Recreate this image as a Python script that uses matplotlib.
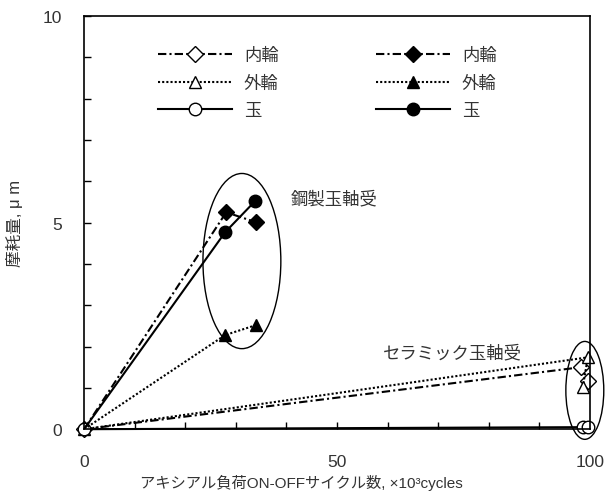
import matplotlib
matplotlib.use("Agg")
import matplotlib.pyplot as plt
from matplotlib.patches import Ellipse
from matplotlib.ticker import MultipleLocator

plt.rcParams['font.family'] = ['Liberation Sans', 'Noto Sans CJK JP']

# wear data: cycles (x10^3) and wear (um), series start at the origin
steel_inner_x = [0, 28.1, 34.0]
steel_inner_y = [0, 5.25, 5.01]
steel_outer_x = [0, 27.9, 34.0]
steel_outer_y = [0, 2.28, 2.52]
steel_ball_x = [0, 27.9, 33.8]
steel_ball_y = [0, 4.77, 5.52]

ceramic_inner_x = [0, 98.2, 99.6]
ceramic_inner_y = [0, 1.50, 1.16]
ceramic_outer_x = [0, 99.6, 98.6]
ceramic_outer_y = [0, 1.74, 1.02]
ceramic_ball_x = [0, 98.7, 99.7]
ceramic_ball_y = [0, 0.05, 0.05]

labels = ['内輪', '外輪', '玉']

fig = plt.figure(figsize=(6.05, 5.02), dpi=100)
ax = fig.add_axes([0.139, 0.143, 0.836, 0.823])

dashdot = (4, 1.5, 1, 1.5)
dotted = (1, 1)
lw = 1.5

# ceramic bearings (open markers)
ax.plot(ceramic_inner_x, ceramic_inner_y, color='black', lw=lw, dashes=dashdot,
        marker='D', ms=8, mfc='white', mec='black', label=labels[0], clip_on=False)
ax.plot(ceramic_outer_x, ceramic_outer_y, color='black', lw=lw, dashes=dotted,
        marker='^', ms=9, mfc='white', mec='black', label=labels[1], clip_on=False)
ax.plot(ceramic_ball_x, ceramic_ball_y, color='black', lw=lw,
        marker='o', ms=9, mfc='white', mec='black', label=labels[2], clip_on=False)

# steel bearings (filled markers)
ax.plot(steel_inner_x, steel_inner_y, color='black', lw=lw, dashes=dashdot,
        marker='D', ms=8, markevery=[1, 2], label=labels[0])
ax.plot(steel_outer_x, steel_outer_y, color='black', lw=lw, dashes=dotted,
        marker='^', ms=9, markevery=[1, 2], label=labels[1])
ax.plot(steel_ball_x, steel_ball_y, color='black', lw=lw,
        marker='o', ms=9, markevery=[1, 2], label=labels[2])

# group outlines
ax.add_patch(Ellipse((31.2, 4.07), 15.4, 4.24, fill=False, lw=1.0, color='black'))
ax.add_patch(Ellipse((99.0, 0.94), 7.5, 2.37, fill=False, lw=1.0, color='black',
                     clip_on=False))

txt_color = '#333333'
ax.text(40.8, 5.6, '鋼製玉軸受', fontsize=12.5, va='center', ha='left', color=txt_color)
ax.text(59.0, 1.86, 'セラミック玉軸受', fontsize=12.5, va='center', ha='left', color=txt_color)

ax.set_xlim(0, 100)
ax.set_ylim(0, 10)
ax.xaxis.set_major_locator(MultipleLocator(50))
ax.xaxis.set_minor_locator(MultipleLocator(10))
ax.yaxis.set_major_locator(MultipleLocator(5))
ax.yaxis.set_minor_locator(MultipleLocator(1))
ax.tick_params(which='both', direction='in', length=5, width=1, labelsize=12.5,
               labelcolor=txt_color)
ax.tick_params(axis='x', pad=18)
ax.tick_params(axis='y', pad=16)
for s in ax.spines.values():
    s.set_linewidth(1.2)

ax.set_xlabel('アキシアル負荷ON-OFFサイクル数, ×10³cycles', fontsize=11,
              color=txt_color, va='center')
ax.xaxis.set_label_coords(0.43, -0.128)
ax.set_ylabel('摩耗量, μ m', fontsize=12, labelpad=14, color=txt_color)

leg = ax.legend(ncol=2, loc='upper left', bbox_to_anchor=(0.146, 0.925), frameon=False,
                fontsize=12.5, handlelength=4.25, columnspacing=5.6, labelspacing=0.68,
                handletextpad=0.7, borderpad=0, borderaxespad=0)
for t in leg.get_texts():
    t.set_color(txt_color)

fig.savefig('out.png', dpi=100)
